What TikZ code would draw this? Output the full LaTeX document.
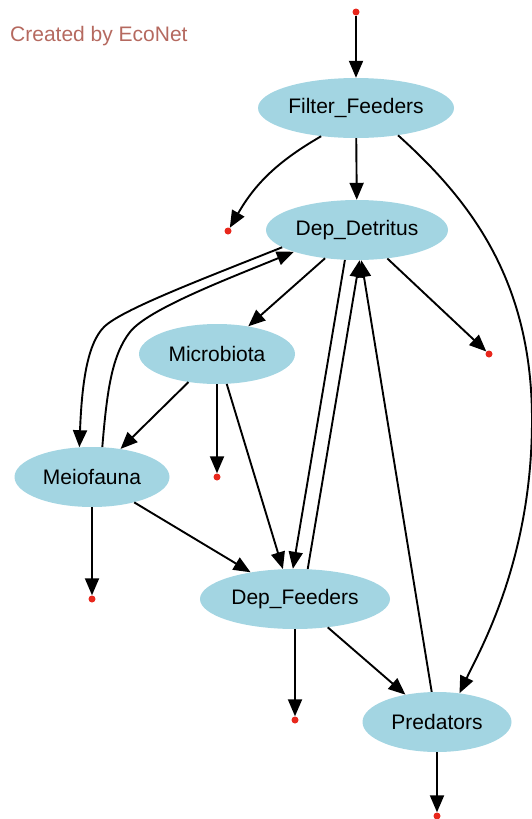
\documentclass[tikz,border=0pt]{standalone}
\usepackage{fontspec}
\setmainfont{Liberation Sans}
\usetikzlibrary{shapes.geometric,arrows.meta}
\definecolor{nodeblue}{HTML}{A3D5E2}
\definecolor{sinkred}{HTML}{E8271C}
\definecolor{econet}{HTML}{B5695F}
\begin{document}
\begin{tikzpicture}[x=1pt,y=-1pt,font=\fontsize{21}{25}\selectfont]
\tikzset{compartment/.style={ellipse,fill=nodeblue,inner sep=0pt,minimum height=60pt}}
\tikzset{sink/.style={circle,fill=sinkred,inner sep=0pt,minimum size=7pt}}
\tikzset{flow/.style={line width=1.9pt,-{Triangle[length=17pt,width=14pt]}}}
\useasboundingbox (0,0) rectangle (532,819);
\node [econet,anchor=base west,inner sep=0pt] (credit) at (10,41) {Created by EcoNet};
\node [sink] (inflow) at (356,12) {};
\node [compartment,minimum width=196pt] (ff) at (356,108) {Filter\_Feeders};
\node [compartment,minimum width=182pt] (dd) at (357,230) {Dep\_Detritus};
\node [compartment,minimum width=156pt] (mb) at (217,354) {Microbiota};
\node [compartment,minimum width=155pt] (meio) at (92,477) {Meiofauna};
\node [compartment,minimum width=190pt] (df) at (295,599) {Dep\_Feeders};
\node [compartment,minimum width=149pt] (pred) at (437,722) {Predators};
\node [sink] (ffout) at (228,231) {};
\node [sink] (ddout) at (489,354) {};
\node [sink] (mbout) at (217,477) {};
\node [sink] (meioout) at (92,599) {};
\node [sink] (dfout) at (295,720) {};
\node [sink] (predout) at (437,816) {};
\draw [flow] (inflow) -- (ff);
\draw [flow] (ff) -- (dd);
\draw [flow] (ff.219) to[bend right=15] (ffout);
\draw [flow] (ff.-33) .. controls (470,200) and (532,280) .. (532,420) .. controls (532,560) and (480,650) .. (pred.52);
\draw [flow] (dd) -- (mb);
\draw [flow] (dd) -- (ddout);
\draw [flow] (dd.193) .. controls (200,280) and (121,310) .. (104,327) .. controls (88,343) and (82,380) .. (meio.113);
\draw [flow] (meio.71) .. controls (107,390) and (112,355) .. (130,332) .. controls (148,309) and (230,278) .. (dd.199);
\draw [flow] (dd.248) -- (df.94);
\draw [flow] (df.67) -- (dd.-85);
\draw [flow] (pred.100) -- (dd.-82);
\draw [flow] (mb) -- (meio);
\draw [flow] (mb) -- (mbout);
\draw [flow] (mb.-72) -- (df.112);
\draw [flow] (meio) -- (meioout);
\draw [flow] (meio) -- (df);
\draw [flow] (df) -- (dfout);
\draw [flow] (df) -- (pred);
\draw [flow] (pred) -- (predout);
\end{tikzpicture}
\end{document}
